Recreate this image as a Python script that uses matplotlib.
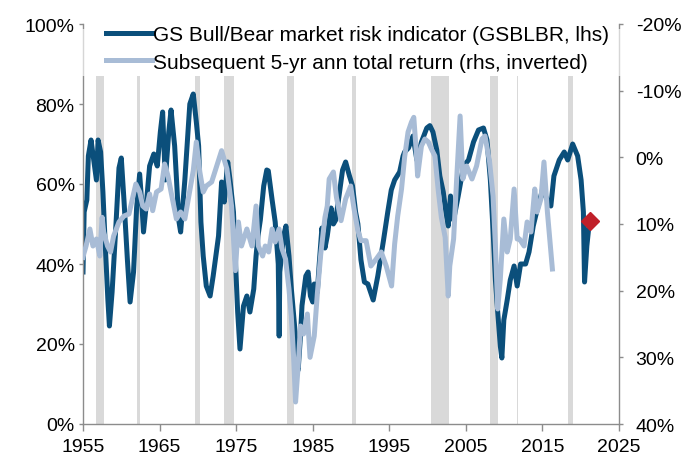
import matplotlib
matplotlib.use("Agg")
import matplotlib.pyplot as plt
from matplotlib.patches import Rectangle

plt.rcParams['font.family'] = ['Liberation Sans', 'DejaVu Sans']

# GS Bull/Bear market risk indicator (lhs, %)
bb_years = [1955.0, 1955.15, 1955.5, 1955.7, 1956.05, 1956.4, 1956.75, 1956.97, 1957.3, 1957.6,
            1957.9, 1958.25, 1958.45, 1958.8, 1959.25, 1959.7, 1960.0, 1960.35, 1960.8, 1961.15,
            1961.6, 1962.0, 1962.4, 1962.7, 1962.9, 1963.25, 1963.7, 1964.25, 1964.7, 1965.1,
            1965.4, 1965.75, 1966.2, 1966.5, 1966.97, 1967.5, 1967.75, 1968.3, 1968.95, 1969.4,
            1969.8, 1970.1, 1970.4, 1970.7, 1971.1, 1971.6, 1972.0, 1972.7, 1973.1, 1973.45,
            1973.9, 1974.2, 1974.65, 1974.96, 1975.2, 1975.5, 1975.96, 1976.4, 1976.8, 1977.3,
            1977.6, 1977.85, 1978.16, 1978.6, 1979.0, 1979.2, 1979.7, 1980.1, 1980.5, 1980.62,
            1980.7, 1981.2, 1981.5, 1981.9, 1982.2, 1982.7, 1982.9, 1983.1, 1983.4, 1983.6,
            1984.1, 1984.4, 1984.7, 1985.0, 1985.2, 1985.6, 1985.85, 1986.2, 1986.6, 1986.9,
            1987.4, 1987.7, 1988.0, 1988.5, 1988.9, 1989.3, 1989.8, 1990.2, 1990.6, 1990.9,
            1991.3, 1991.75, 1992.2, 1992.9, 1993.5, 1994.25, 1994.8, 1995.26, 1995.7, 1996.35,
            1996.8, 1997.0, 1997.5, 1998.1, 1998.6, 1999.2, 1999.9, 2000.3, 2000.7, 2001.2,
            2001.6, 2002.05, 2002.4, 2002.7, 2003.0, 2003.4, 2004.0, 2004.7, 2005.35, 2006.0,
            2006.65, 2007.3, 2007.76, 2008.2, 2008.55, 2008.86, 2009.16, 2009.5, 2009.7, 2009.96,
            2010.4, 2010.8, 2011.3, 2011.7, 2012.15, 2012.8, 2013.25, 2013.8, 2014.3, 2015.0,
            2015.65, 2016.1, 2016.5, 2017.2, 2017.85, 2018.3, 2018.95, 2019.6, 2020.05, 2020.35,
            2020.5, 2020.8, 2021.1]
bb_values = [38, 53, 56, 67, 71, 66, 61, 71, 68, 58,
             45, 31, 24.5, 33, 48, 64, 66.5, 56, 41, 30.5,
             38, 54, 62.5, 54.5, 48, 54.5, 64.5, 67.5, 64.5, 73,
             78, 61, 73, 78.5, 69.5, 51, 48, 61, 80, 82.5,
             75.5, 69.5, 50.5, 42, 34.5, 32, 37, 47, 60.5, 55.5,
             65.5, 61, 53, 38.5, 28, 18.75, 29.5, 32, 28, 33.75,
             42, 47, 51, 59.5, 63.5, 63.3, 56, 50.5, 40, 22,
             38, 47, 49.5, 42, 34, 23, 14.5, 13.5, 22, 29.6,
             37, 38, 32, 30.5, 35, 33, 40, 49, 44, 47,
             54, 50, 51, 58, 63.5, 65.5, 62, 59.5, 53, 50,
             41, 35.5, 35, 31, 37, 46, 53, 58.5, 61, 63,
             67, 68, 69, 72, 66, 70.5, 74, 74.6, 73, 68.5,
             62, 58, 53, 49.5, 57, 51, 57, 64.5, 66, 70.5,
             73.5, 74, 71, 61, 48.5, 36, 28, 19.5, 16.5, 26,
             31, 36, 39.5, 34.5, 40, 40, 43, 49.5, 53.5, 58.5,
             56, 54.5, 62, 66, 68, 66, 70, 67, 61, 53,
             35.5, 44.5, 50]

# Subsequent 5-yr annualised total return (rhs, inverted, %)
ret_years = [1955.0, 1955.1, 1955.4, 1955.9, 1956.3, 1956.75, 1957.2, 1957.5, 1957.7, 1958.2,
             1958.6, 1959.0, 1959.7, 1960.35, 1961.0, 1961.45, 1961.9, 1962.4, 1962.8, 1963.25,
             1963.7, 1964.1, 1964.6, 1965.2, 1965.66, 1966.1, 1966.5, 1967.2, 1967.75, 1968.3,
             1968.95, 1969.4, 1969.8, 1970.26, 1970.7, 1971.1, 1971.8, 1972.46, 1973.1, 1973.8,
             1974.4, 1974.9, 1975.3, 1975.7, 1976.4, 1977.06, 1977.6, 1977.9, 1978.46, 1978.8,
             1979.25, 1979.7, 1980.1, 1980.6, 1981.0, 1981.45, 1981.9, 1982.2, 1982.5, 1982.76,
             1983.1, 1983.4, 1983.8, 1984.3, 1984.65, 1985.2, 1985.6, 1986.05, 1986.6, 1986.9,
             1987.15, 1987.7, 1988.1, 1988.7, 1989.3, 1989.96, 1990.4, 1990.9, 1991.3, 1991.97,
             1992.6, 1993.3, 1993.95, 1994.6, 1995.3, 1995.7, 1996.1, 1996.6, 1997.0, 1997.45,
             1997.9, 1998.2, 1998.5, 1998.7, 1999.2, 1999.65, 2000.1, 2000.5, 2000.96, 2001.4,
             2001.8, 2002.3, 2002.7, 2002.9, 2003.4, 2003.8, 2004.25, 2004.6, 2005.1, 2005.8,
             2006.4, 2007.1, 2007.5, 2008.1, 2008.55, 2008.86, 2009.16, 2009.5, 2009.96, 2010.4,
             2010.8, 2011.3, 2011.7, 2012.0, 2012.6, 2013.0, 2013.5, 2014.0, 2014.3, 2014.8,
             2015.2, 2015.65, 2016.1, 2016.3]
ret_values = [15, 14.5, 13.3, 10.75, 13.3, 12.25, 14.8, 9, 11.2, 13.3,
              14.2, 11.8, 9.7, 8.8, 8.5, 6.25, 4, 5.2, 7.3, 7.75,
              5.5, 8, 5.2, 4.75, 1, 2.8, 5.2, 9.25, 8.2, 9.25,
              5, 2, -2.3, 2.2, 5.2, 4.3, 3.7, 1.3, -1, 1.75,
              7.3, 17, 9.7, 13.3, 10.75, 13.3, 7.3, 13.3, 14.8, 13.3,
              14.2, 10.75, 12.7, 10.75, 13.75, 15.25, 19.75, 23.8, 29.8, 36.7,
              31.3, 25.3, 26.5, 23.5, 30, 26.8, 20.5, 14.5, 9, 7.3,
              3.25, 2.2, 6, 9.5, 6.25, 4.3, 7.75, 11, 12.5, 12.5,
              16.3, 15.25, 14.2, 16.3, 19.3, 13, 8.8, 4.75, 0, -3.8,
              -5.3, -6, -1.25, 2.8, -1.7, -2.75, -2.3, -1.25, -0.2, 5,
              9, 12, 20.8, 16.3, 12.25, 3.25, -6.2, 3.25, 1.3, 3.25,
              1.3, -2.75, -3.2, 0.7, 5.8, 13.3, 22.75, 18.25, 9.25, 14.2,
              12.25, 4.75, 12.25, 12.25, 13.3, 9.7, 11.2, 4.75, 8.2, 6.25,
              0.7, 8.2, 14.2, 16.75]

# Shaded periods (start, end)
shade_periods = [(1956.75, 1957.8), (1962.1, 1962.4), (1969.6, 1970.3), (1973.4, 1974.7),
                 (1981.6, 1982.6), (1990.1, 1990.65), (2000.5, 2002.8), (2008.2, 2009.25),
                 (2011.65, 2011.85), (2018.4, 2019.05)]

latest_year = [2021.25]
latest_value = [50.8]

left_ticks = [0, 20, 40, 60, 80, 100]
right_ticks = [-20, -10, 0, 10, 20, 30, 40]
x_ticks = [1955, 1965, 1975, 1985, 1995, 2005, 2015, 2025]

DARK = '#0b4f7b'
LIGHT = '#a8bcd6'
GRID = '#8c8c8c'
SHADE = '#d9d9d9'

W, H = 687, 460
fig = plt.figure(figsize=(W / 100, H / 100), dpi=100)
ax = fig.add_axes([83 / W, 1 - 425 / H, (619 - 83) / W, 400 / H])
ax2 = ax.twinx()

for s, e in shade_periods:
    ax.axvspan(s, e, ymin=0, ymax=0.87, color=SHADE, lw=0, zorder=0)

l1, = ax.plot(bb_years, bb_values, color=DARK, lw=3.6, solid_joinstyle='round', zorder=2,
              label='GS Bull/Bear market risk indicator (GSBLBR, lhs)')
l2, = ax2.plot(ret_years, ret_values, color=LIGHT, lw=3.6, solid_joinstyle='round', zorder=2,
               label='Subsequent 5-yr ann total return (rhs, inverted)')
ax.plot(latest_year, latest_value, marker='D', color='#c0202a', markersize=9, lw=0, zorder=5)

ax.set_xlim(1955, 2025)
ax.set_ylim(0, 100)
ax2.set_ylim(40, -20)

ax.set_xticks(x_ticks)
ax.set_xticklabels([str(x) for x in x_ticks])
ax.set_yticks(left_ticks)
ax.set_yticklabels([f'{v}%' for v in left_ticks])
ax2.set_yticks(right_ticks)
ax2.set_yticklabels([f'{v}%' for v in right_ticks])

for a in (ax, ax2):
    a.spines['top'].set_visible(False)
    for sp in ('left', 'right', 'bottom'):
        a.spines[sp].set_color(GRID)
        a.spines[sp].set_linewidth(1.0)
    a.tick_params(axis='both', direction='out', length=4, width=1, color=GRID,
                  labelsize=14, labelcolor='black', pad=4)
ax.tick_params(axis='x', length=5, pad=5)
ax.tick_params(axis='y', length=3, pad=3)
ax2.tick_params(axis='y', length=3, pad=9)
ax.spines['right'].set_visible(False)
ax2.spines['left'].set_visible(False)
ax2.spines['bottom'].set_visible(False)

ax.set_zorder(1)
ax2.set_zorder(2)
ax2.patch.set_visible(False)

# white band behind legend, partially covering the top of the plot
ax2.add_patch(Rectangle((-0.01, 0.87), 1.02, 0.118, transform=ax2.transAxes,
                        facecolor='white', edgecolor='none', alpha=0.65,
                        clip_on=False, zorder=4))

leg = ax2.legend(handles=[l1, l2], loc='upper left', bbox_to_anchor=(0.043, 0.997),
                 frameon=False, fontsize=15, handlelength=2.2, handletextpad=0.05,
                 labelspacing=0.4, borderaxespad=0, borderpad=0)
leg.set_zorder(6)
for h in leg.get_lines():
    h.set_linewidth(3.6)

fig.savefig('out.png', dpi=100)
